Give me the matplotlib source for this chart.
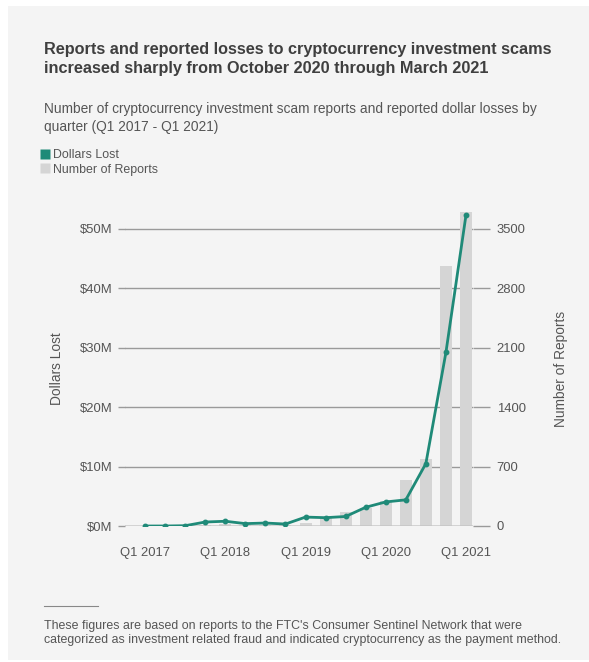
import matplotlib.pyplot as plt
from matplotlib.patches import Rectangle
from matplotlib.lines import Line2D

plt.rcParams['font.family'] = ['Liberation Sans', 'DejaVu Sans']

# Data
quarters = ["Q1 2017", "Q2 2017", "Q3 2017", "Q4 2017",
            "Q1 2018", "Q2 2018", "Q3 2018", "Q4 2018",
            "Q1 2019", "Q2 2019", "Q3 2019", "Q4 2019",
            "Q1 2020", "Q2 2020", "Q3 2020", "Q4 2020",
            "Q1 2021"]
dollars_m = [0.0, 0.0, 0.05, 0.67, 0.8, 0.4, 0.5, 0.33,
             1.5, 1.4, 1.6, 3.15, 4.05, 4.4, 10.5, 29.2, 52.3]
reports = [2, 3, 5, 12, 18, 14, 14, 14,
           40, 91, 162, 210, 295, 542, 790, 3063, 3700]
left_ticks = [0, 10, 20, 30, 40, 50]
right_ticks = [0, 700, 1400, 2100, 2800, 3500]

teal = "#1f8a78"
bar_gray = "#d5d5d5"
grid_gray = "#9a9a9a"
text_dark = "#3f3f3f"
text_mid = "#555555"

fig = plt.figure(figsize=(5.89, 6.62), dpi=100)
fig.patch.set_facecolor("white")
fig.patches.append(Rectangle((8 / 589, 2 / 662), 581 / 589, 654 / 662,
                             transform=fig.transFigure, facecolor="#f4f4f4",
                             edgecolor="none", zorder=0))

ax = fig.add_axes([125 / 589, 1 - 526 / 662, (473 - 125) / 589, (526 - 211) / 662])
ax2 = ax.twinx()
ax.set_zorder(2)
ax2.set_zorder(1)
ax.patch.set_visible(False)
ax2.patch.set_visible(False)

x = list(range(len(quarters)))
ytop = 53.0

# bars for report counts
ax2.bar(x, reports, width=0.6, color=bar_gray, zorder=2)
ax2.set_ylim(0, ytop * 70)
ax2.set_yticks(right_ticks)
ax2.yaxis.grid(True, color=grid_gray, linewidth=1.0, zorder=0)
ax2.set_axisbelow(True)

# line for dollars lost
ax.plot(x, dollars_m, color=teal, linewidth=2.0, marker="o", markersize=3.2, zorder=3)
ax.set_ylim(0, ytop)
ax.set_yticks(left_ticks)
ax.set_yticklabels([f"${v}M" for v in left_ticks])
ax.set_xlim(-1.0, 16.35)
ax.set_xticks(x)
ax.set_xticklabels([q if q.startswith("Q1") else "" for q in quarters])

for a in (ax, ax2):
    for s in a.spines.values():
        s.set_visible(False)
ax.axhline(0, color=grid_gray, linewidth=1.0, zorder=1)

ax.tick_params(axis="x", length=0, pad=15, labelsize=9.4, labelcolor=text_mid)
ax.tick_params(axis="y", length=5, width=1.0, color=grid_gray, pad=4,
               labelsize=9.4, labelcolor=text_mid)
ax2.tick_params(axis="y", length=12, width=1.0, color=grid_gray, pad=5,
                labelsize=9.4, labelcolor=text_mid)

ax.set_ylabel("Dollars Lost", fontsize=9.9, color=text_mid, labelpad=11)
ax2.set_ylabel("Number of Reports", fontsize=9.9, color=text_mid, labelpad=20)

# Titles
fig.text(44 / 589, 1 - 59 / 662,
         "Reports and reported losses to cryptocurrency investment scams\n"
         "increased sharply from October 2020 through March 2021",
         fontsize=11.7, fontweight="bold", color=text_dark, va="center",
         linespacing=1.4)
fig.text(44 / 589, 1 - 118 / 662,
         "Number of cryptocurrency investment scam reports and reported dollar losses by\n"
         "quarter (Q1 2017 - Q1 2021)",
         fontsize=9.9, color=text_mid, va="center", linespacing=1.35)

# Legend
handles = [Line2D([], [], marker="s", linestyle="none", markersize=7.5,
                  markerfacecolor=teal, markeredgecolor="none"),
           Line2D([], [], marker="s", linestyle="none", markersize=7.5,
                  markerfacecolor=bar_gray, markeredgecolor="none")]
leg = fig.legend(handles, ["Dollars Lost", "Number of Reports"],
                 loc="upper left", bbox_to_anchor=(41 / 589, 1 - 149 / 662),
                 frameon=False, fontsize=8.9, handlelength=0.6, handletextpad=0.35,
                 labelspacing=0.22, borderpad=0, borderaxespad=0)
for t in leg.get_texts():
    t.set_color(text_mid)

# Footnote
fig.add_artist(Line2D([44 / 589, 98 / 589], [1 - 606 / 662, 1 - 606 / 662],
                      transform=fig.transFigure, color="#888888", linewidth=0.8))
fig.text(44 / 589, 1 - 633 / 662,
         "These figures are based on reports to the FTC's Consumer Sentinel Network that were\n"
         "categorized as investment related fraud and indicated cryptocurrency as the payment method.",
         fontsize=8.9, color=text_mid, va="center", linespacing=1.3)

fig.savefig("out.png", dpi=100)
